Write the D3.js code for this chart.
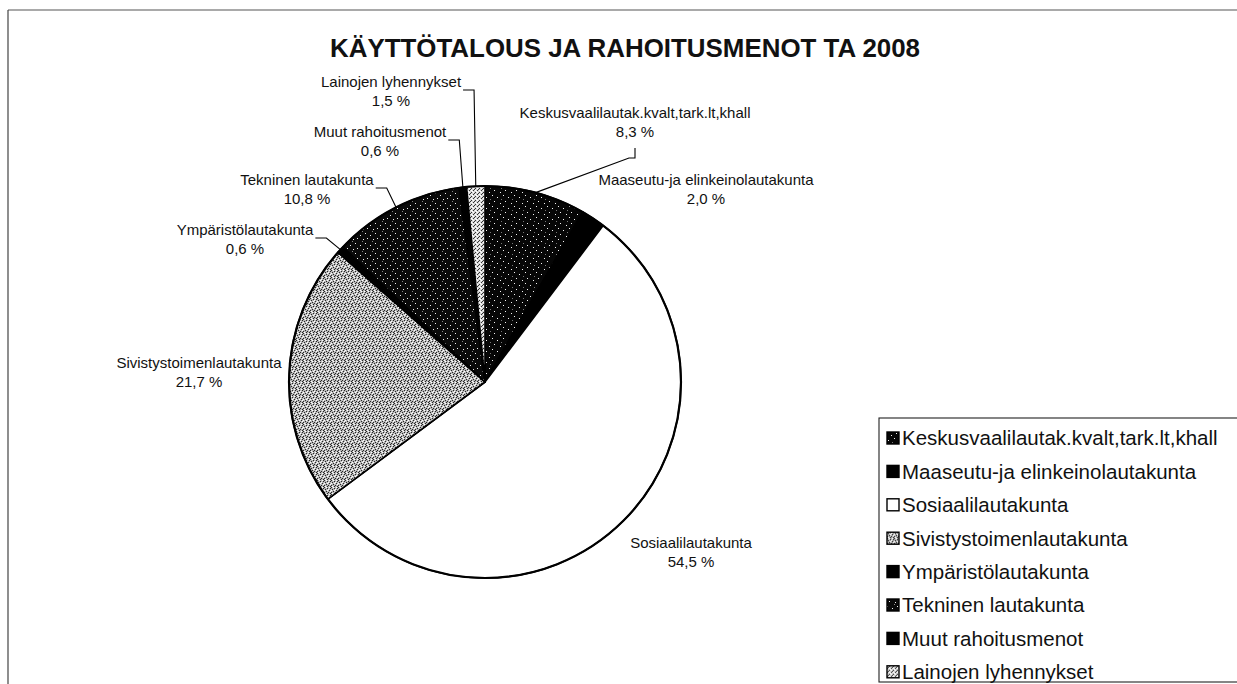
<!DOCTYPE html>
<html>
<head>
<meta charset="utf-8">
<script src="https://cdn.jsdelivr.net/npm/d3@7"></script>
<style>
  html, body { margin: 0; padding: 0; background: #fff; }
  svg text { font-family: "Liberation Sans", Arial, sans-serif; fill: #111; }
</style>
</head>
<body>
<div id="chart"></div>
<script>
// Data (share of budget, %)
const TITLE = "KÄYTTÖTALOUS JA RAHOITUSMENOT TA 2008";
const CATEGORIES = [
  "Keskusvaalilautak.kvalt,tark.lt,khall",
  "Maaseutu-ja elinkeinolautakunta",
  "Sosiaalilautakunta",
  "Sivistystoimenlautakunta",
  "Ympäristölautakunta",
  "Tekninen lautakunta",
  "Muut rahoitusmenot",
  "Lainojen lyhennykset"
];
const SHARES = [8.3, 2.0, 54.5, 21.7, 0.6, 10.8, 0.6, 1.5];

(function () {
  const W = 1237, H = 684;
  const CX = 485, CY = 382, R = 196;

  // fill pattern per slice (scan look: stipples / solid)
  const FILLS = ["pDark", "solidBlack", "solidWhite", "pGray", "solidBlack", "pDark2", "solidBlack", "pLight"];

  // label centre offsets from pie centre + leader style (manual, like the original)
  const LABEL_POS = [
    { dx: 150,  dy: -269, leader: "below" },
    { dx: 221,  dy: -202, leader: null },
    { dx: 206,  dy: 161,  leader: null },
    { dx: -286, dy: -19,  leader: null },
    { dx: -240, dy: -152, leader: "right" },
    { dx: -178, dy: -202, leader: "right" },
    { dx: -105, dy: -250, leader: "right" },
    { dx: -94,  dy: -300, leader: "right" }
  ];

  const fi = d3.formatLocale({ decimal: ",", thousands: " ", grouping: [3], currency: ["", " €"] });
  const pct = v => fi.format(".1f")(v) + " %";

  const svg = d3.select("#chart").append("svg")
    .attr("width", W).attr("height", H).attr("viewBox", `0 0 ${W} ${H}`);

  // patterns
  const defs = svg.append("defs");
  function pattern(id, size, bg, layers) {
    const p = defs.append("pattern").attr("id", id).attr("patternUnits", "userSpaceOnUse")
      .attr("width", size).attr("height", size);
    p.append("rect").attr("width", size).attr("height", size).attr("fill", bg);
    layers.forEach(([col, pts]) => {
      pts.forEach(([x, y]) => p.append("rect").attr("x", x).attr("y", y)
        .attr("width", 1).attr("height", 1).attr("fill", col));
    });
  }
  pattern("pDark", 11, "#060606", [["#f4f4f4", [[1, 2], [7, 0], [9, 6], [4, 8]]], ["#777", [[5, 4]]]]);
  pattern("pDark2", 10, "#0a0a0a", [["#f4f4f4", [[0, 1], [5, 3], [8, 7], [2, 6]]], ["#888", [[7, 9]]]]);
  pattern("pGray", 7, "#b8b8b8", [
    ["#262626", [[0, 0], [3, 1], [6, 1], [1, 2], [5, 3], [2, 4], [4, 5], [0, 5], [6, 6], [3, 6]]],
    ["#ffffff", [[2, 0], [5, 0], [0, 3], [3, 3], [6, 4], [1, 6], [4, 2]]]
  ]);
  pattern("pLight", 4, "#d6d6d6", [
    ["#333", [[0, 0], [2, 2], [1, 3]]],
    ["#fff", [[2, 0], [0, 2], [3, 1]]]
  ]);
  const fillOf = k => k === "solidBlack" ? "#000" : k === "solidWhite" ? "#fff" : `url(#${k})`;

  // outer page frame (scan edge)
  svg.append("line").attr("x1", 8).attr("x2", W).attr("y1", 10).attr("y2", 10)
    .attr("stroke", "#555").attr("stroke-width", 1.2);
  svg.append("line").attr("x1", 8).attr("x2", 8).attr("y1", 10).attr("y2", H)
    .attr("stroke", "#444").attr("stroke-width", 1.2);

  // title
  svg.append("text").attr("x", 625).attr("y", 57).attr("text-anchor", "middle")
    .attr("font-size", "26px").attr("font-weight", "bold")
    .attr("textLength", 590).attr("lengthAdjust", "spacingAndGlyphs")
    .text(TITLE);

  const data = CATEGORIES.map((c, i) => ({ name: c, value: SHARES[i], fill: FILLS[i], pos: LABEL_POS[i] }));
  const pie = d3.pie().sort(null).value(d => d.value);
  const arcs = pie(data);
  const arc = d3.arc().innerRadius(0).outerRadius(R);
  const edge = d3.arc().innerRadius(R).outerRadius(R);

  const g = svg.append("g").attr("transform", `translate(${CX},${CY})`);
  g.selectAll("path.slice").data(arcs).join("path")
    .attr("class", "slice")
    .attr("d", arc)
    .attr("fill", d => fillOf(d.data.fill))
    .attr("stroke", "#000").attr("stroke-width", 1.6).attr("stroke-linejoin", "round");
  g.append("circle").attr("r", R).attr("fill", "none").attr("stroke", "#000").attr("stroke-width", 2.2);

  // data labels
  const lab = g.selectAll("g.lab").data(arcs).join("g").attr("class", "lab")
    .attr("transform", d => `translate(${d.data.pos.dx},${d.data.pos.dy})`);
  lab.append("text").attr("class", "l1").attr("text-anchor", "middle").attr("dy", "0.35em")
    .attr("font-size", "15px").text(d => d.data.name);
  lab.append("text").attr("text-anchor", "middle").attr("y", 19).attr("dy", "0.35em")
    .attr("font-size", "15px").text(d => pct(d.value));

  // leader lines
  lab.each(function (d) {
    const p = d.data.pos;
    if (!p.leader) return;
    const [ex, ey] = edge.centroid(d);
    let pts;
    if (p.leader === "right") {
      const w = d3.select(this).select("text.l1").node().getComputedTextLength();
      const sx = p.dx + w / 2 + 2, sy = p.dy + 8;
      pts = [[sx, sy], [sx + 11, sy], [ex, ey]];
    } else {
      const sx = p.dx, sy = p.dy + 35;
      pts = [[sx, sy], [sx, sy + 10], [sx - 6, sy + 10], [ex, ey]];
    }
    g.append("path").attr("d", d3.line()(pts))
      .attr("fill", "none").attr("stroke", "#000").attr("stroke-width", 1.1);
  });

  // legend
  const LX = 879, LY = 418, ROW = 33.4;
  svg.append("rect").attr("x", LX).attr("y", LY).attr("width", W - LX + 10).attr("height", 264)
    .attr("fill", "#fff").attr("stroke", "#222").attr("stroke-width", 1.1);
  const leg = svg.selectAll("g.leg").data(data).join("g").attr("class", "leg")
    .attr("transform", (d, i) => `translate(${LX + 8},${LY + 20 + i * ROW})`);
  leg.append("rect").attr("x", 0).attr("y", -6).attr("width", 12).attr("height", 12)
    .attr("fill", d => fillOf(d.fill)).attr("stroke", "#000").attr("stroke-width", 1.4);
  leg.append("text").attr("x", 15).attr("dy", "0.36em").attr("font-size", "20.5px")
    .text(d => d.name);
})();
</script>
</body>
</html>
